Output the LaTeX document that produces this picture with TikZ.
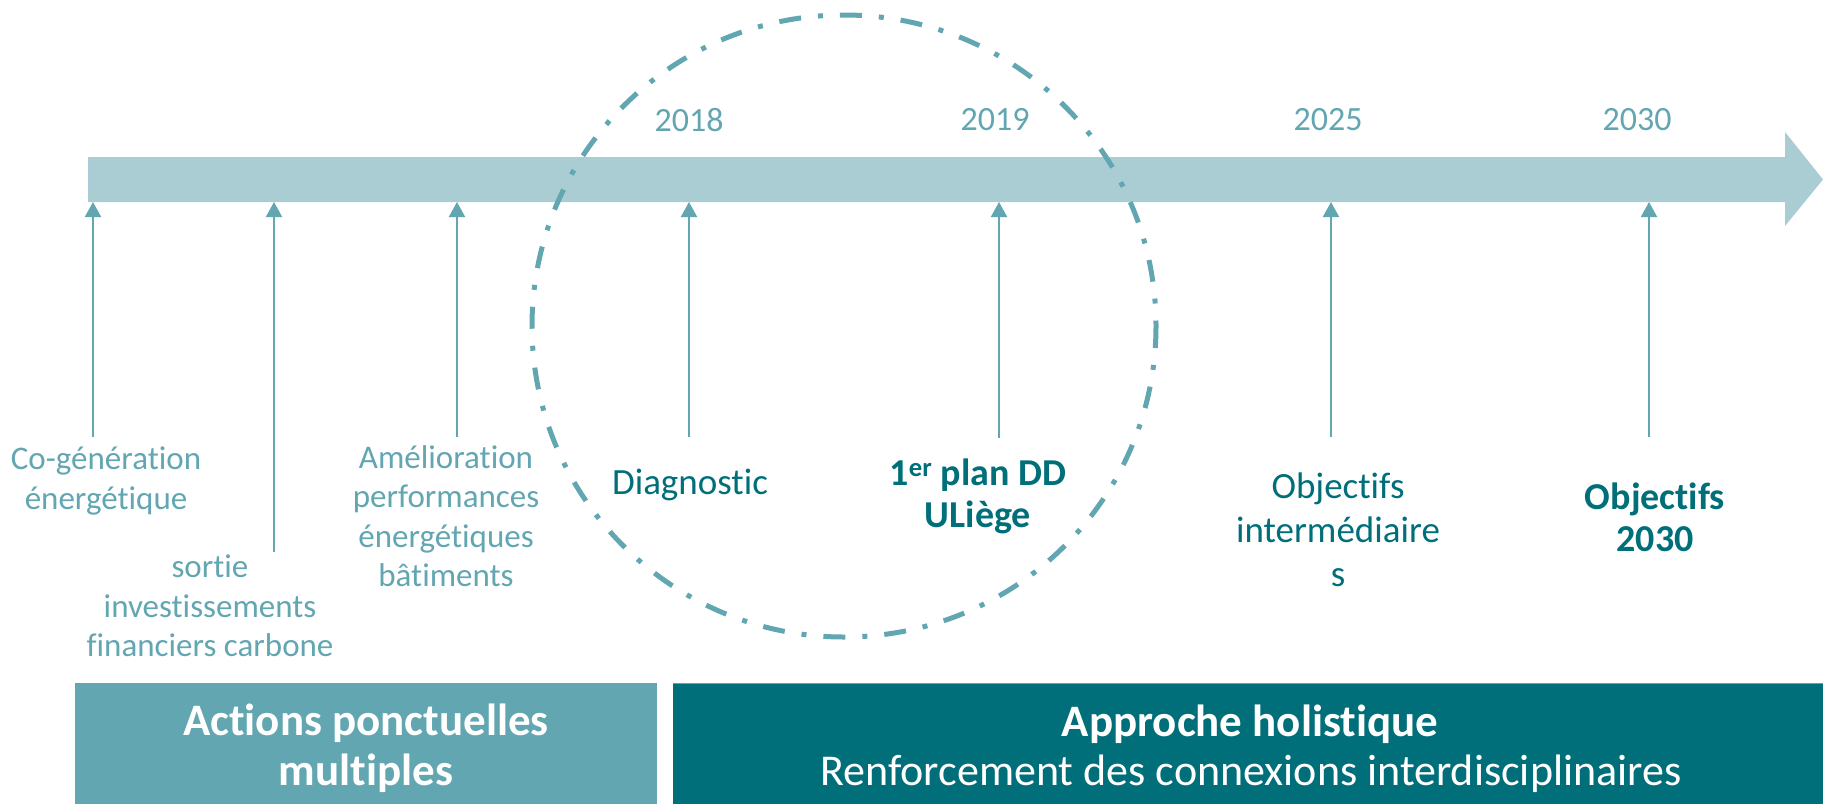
\documentclass[tikz,border=0pt]{standalone}
\usepackage{fontspec}
\setmainfont{Carlito}[Ligatures={NoCommon,NoContextual}]
\usetikzlibrary{arrows.meta}
\definecolor{barc}{RGB}{169,205,211}
\definecolor{midc}{RGB}{98,166,178}
\definecolor{darkc}{RGB}{0,111,122}
\tikzset{
 tick/.style={draw=midc, line width=2pt, -{Triangle[width=16pt,length=15pt]}},
 lighttxt/.style={text=midc, align=center, inner sep=0pt, font=\fontsize{33}{39.5}\selectfont},
 darktxt/.style={text=darkc, align=center, inner sep=0pt, font=\fontsize{37}{44}\selectfont},
 boldtxt/.style={text=darkc, align=center, inner sep=0pt, font=\fontsize{38}{42}\selectfont\bfseries},
 yeartxt/.style={text=midc, inner sep=0pt, font=\fontsize{34}{40}\selectfont},
 ring/.style={draw=midc, line width=5pt, dash pattern=on 22pt off 17pt on 5pt off 17pt},
 boxtitle/.style={text=white, align=center, inner sep=0pt, font=\fontsize{45}{50}\selectfont\bfseries},
}
\begin{document}
\begin{tikzpicture}[x=1pt,y=-1pt]
\useasboundingbox (0,0) rectangle (1823,804);
% timeline bar
\fill[barc] (88,157) -- (1785,157) -- (1785,132) -- (1823,179.5) -- (1785,226) -- (1785,202) -- (88,202) -- cycle;
% years
\node[yeartxt] (y18) at (689,120) {2018};
\node[yeartxt] (y19) at (995,120) {2019};
\node[yeartxt] (y25) at (1328,120) {2025};
\node[yeartxt] (y30) at (1637,120) {2030};
% tick coordinates
\foreach \n/\x/\b in {a/93/437, b/274/552, c/457/437, d/689/437, e/999/438, f/1331/437, g/1649/437}{
  \coordinate (\n bot) at (\x,\b);
  \coordinate (\n top) at (\x,202);
}
\foreach \n in {a,b,c,d,e,f,g}{ \draw[tick] (\n bot) -- (\n top); }
% labels
\node[lighttxt] (cogen) at (106,481) {Co-génération\\énergétique};
\node[lighttxt] (sortie) at (210,606) {sortie\\investissements\\financiers carbone};
\node[lighttxt] (amelio) at (446,516) {Amélioration\\performances\\énergétiques\\bâtiments};
\node[darktxt] (diag) at (690,485) {Diagnostic};
\node[boldtxt] (plan) at (978,496) {1\textsuperscript{er} plan DD\\ULiège};
\node[darktxt] (objint) at (1338,530) {Objectifs\\intermédiaire\\s};
\node[boldtxt] (obj30) at (1655,517) {Objectifs\\2030};
% dashed circle
\draw[ring] (844,326) ellipse [x radius=312, y radius=311];
% bottom boxes
\fill[midc] (75,683) rectangle (657,804);
\fill[darkc] (673,683) rectangle (1823,804);
\draw[midc, line width=1pt] (673,683.5) -- (1823,683.5);
\node[boxtitle] (actions) at (366,748) {Actions ponctuelles\\multiples};
\node[boxtitle] (approche) at (1250,724) {Approche holistique};
\node[text=white, inner sep=0pt, font=\fontsize{44}{50}\selectfont] (renf) at (1251,774) {Renforcement des connexions interdisciplinaires};
\end{tikzpicture}
\end{document}
